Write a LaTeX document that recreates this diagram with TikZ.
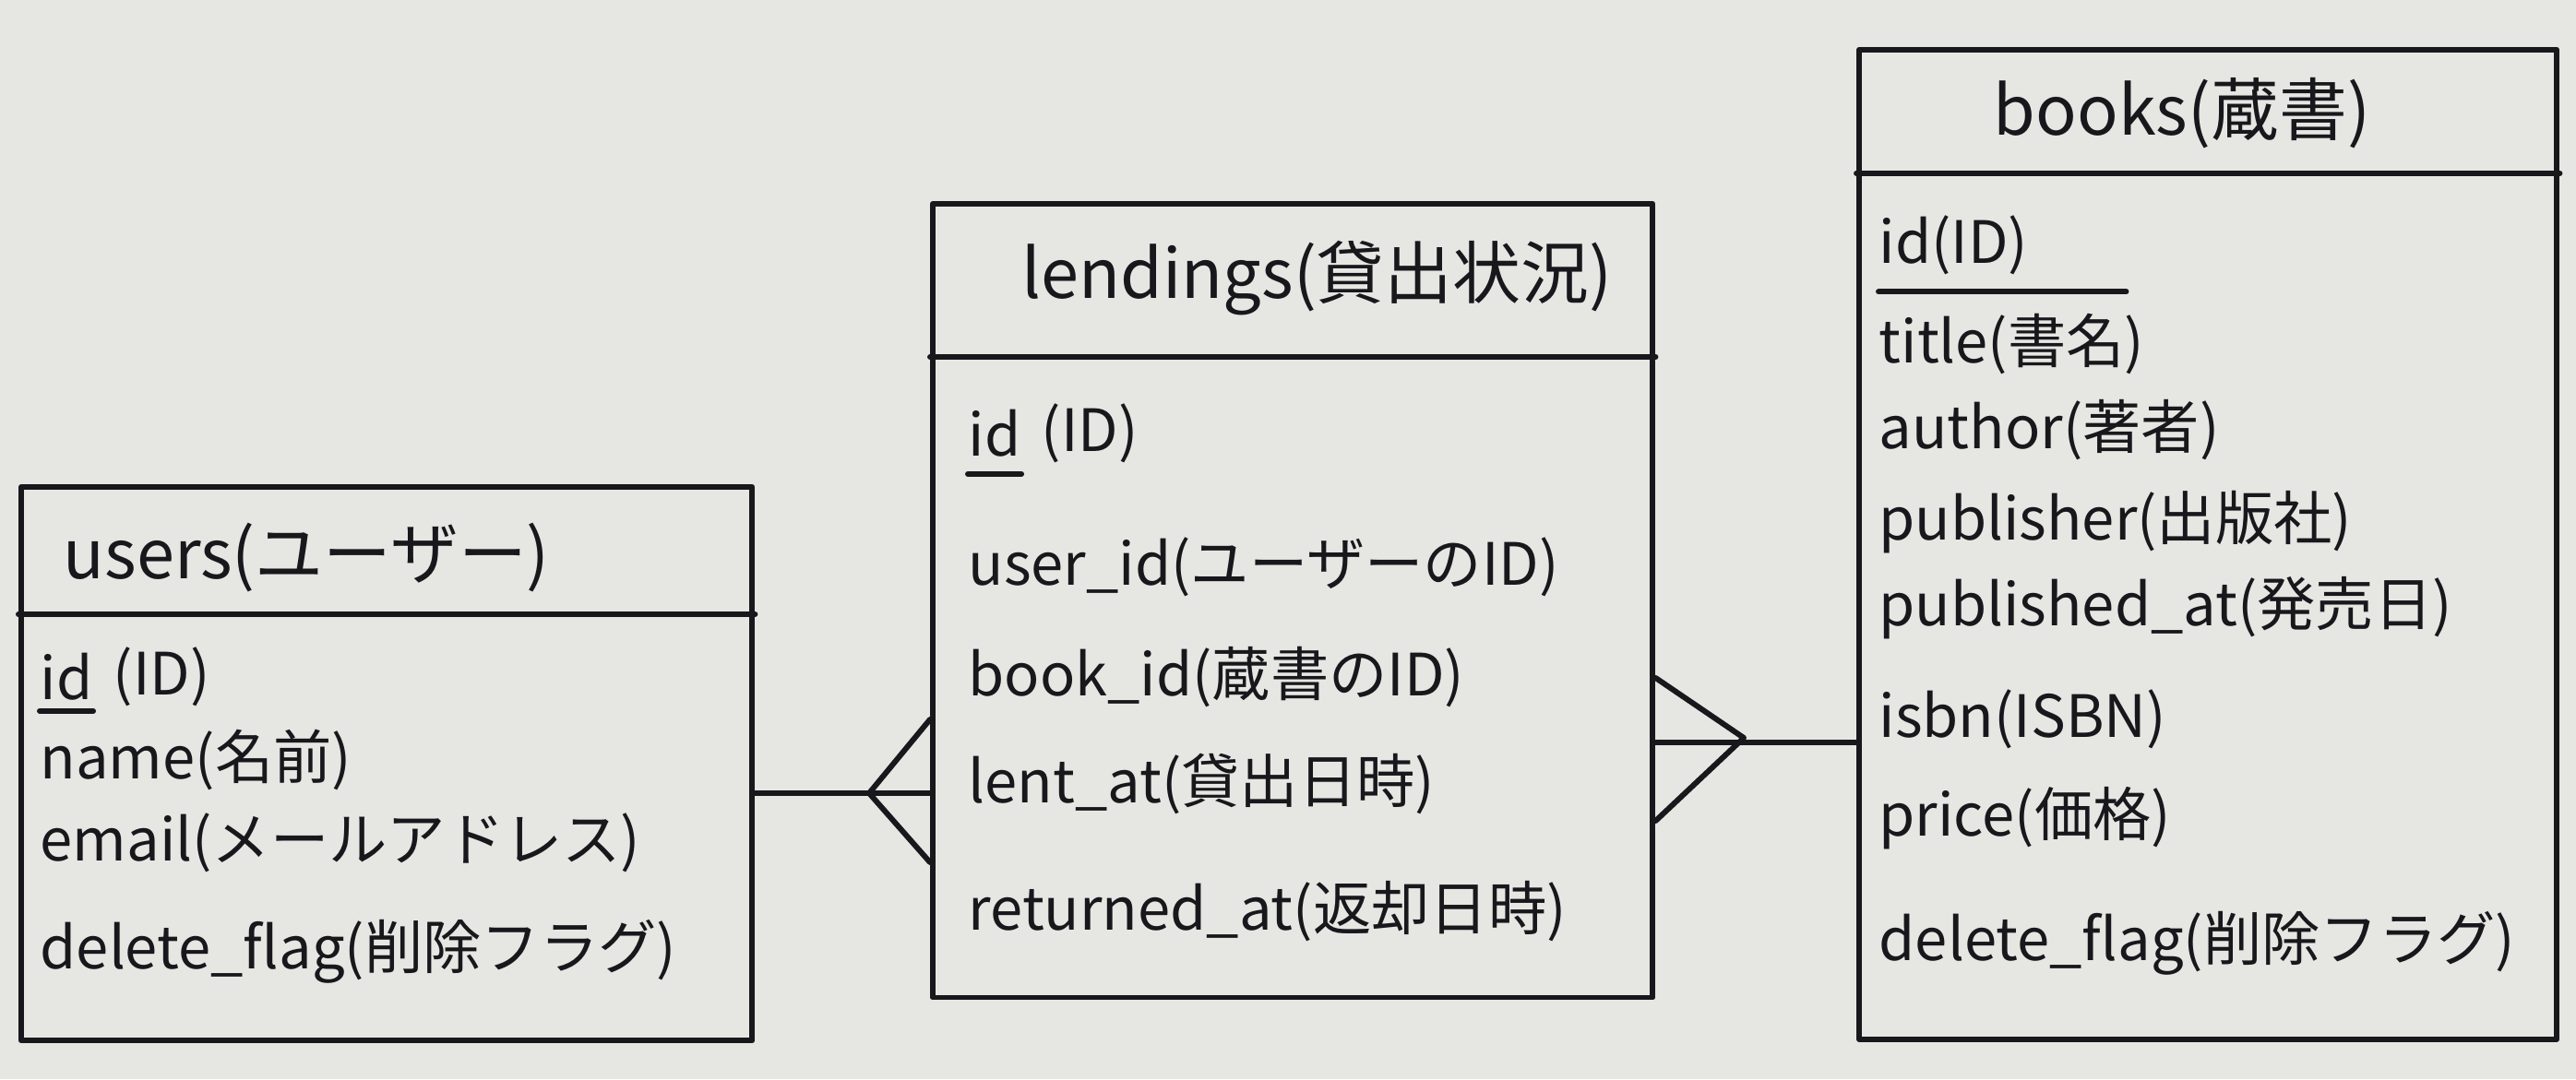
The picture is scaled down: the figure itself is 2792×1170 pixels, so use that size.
\documentclass[tikz,border=0pt]{standalone}
\usepackage{fontspec}
\setmainfont{Noto Sans CJK JP}
\definecolor{bgc}{RGB}{230,230,227}
\definecolor{inkc}{RGB}{24,24,28}
\begin{document}
\begin{tikzpicture}[x=0.01cm,y=-0.01cm,
  ink/.style={draw=inkc, line width=1.7pt, line cap=round, line join=round},
  box/.style={ink, rectangle, inner sep=0, anchor=north west},
  hdr/.style={font=\fontsize{21}{24}\selectfont, text=inkc, inner sep=0},
  fld/.style={font=\fontsize{18}{21}\selectfont, text=inkc, inner sep=0, anchor=west},
]
\fill[bgc] (0,0) rectangle (2792,1170);
\useasboundingbox (0,0) rectangle (2792,1170);

% boxes
\node[box, minimum width=7.92cm, minimum height=6.00cm] (users) at (20,525) {};
\node[box, minimum width=7.80cm, minimum height=8.60cm] (lend) at (1008,218) {};
\node[box, minimum width=7.56cm, minimum height=10.72cm] (books) at (2012,51) {};

% header dividers
\draw[ink] (users.west |- 0,666) -- (users.east |- 0,666);
\draw[ink] (lend.west |- 0,387) -- (lend.east |- 0,387);
\draw[ink] (books.west |- 0,188) -- (books.east |- 0,188);

% headers
\node[hdr, anchor=west] (usersH) at (68,605) {users(ユーザー)};
\node[hdr, anchor=west] (lendH) at (1107,302) {lendings(貸出状況)};
\node[hdr] (booksH) at (2365,123) {books(蔵書)};

% users fields
\node[fld] (uidk) at (43,734) {id};
\node[fld, anchor=west] (uidt) at ([xshift=6pt]uidk.east) {(ID)};
\draw[ink] ([yshift=-3pt]uidk.south west) -- ([yshift=-3pt]uidk.south east);
\node[fld] (uname) at (43,824) {name(名前)};
\node[fld] (umail) at (43,914) {email(メールアドレス)};
\node[fld] (udel) at (43,1032) {delete\_flag(削除フラグ)};

% lendings fields
\node[fld] (lidk) at (1049,470) {id};
\node[fld, anchor=west] (lidt) at ([xshift=6pt]lidk.east) {(ID)};
\draw[ink] ([yshift=-5pt]lidk.south west) -- ([yshift=-5pt]lidk.south east);
\node[fld] (luser) at (1049,615) {user\_id(ユーザーのID)};
\node[fld] (lbook) at (1049,734) {book\_id(蔵書のID)};
\node[fld] (llent) at (1049,850) {lent\_at(貸出日時)};
\node[fld] (lret) at (1049,988) {returned\_at(返却日時)};

% books fields
\node[fld] (bid) at (2036,266) {id(ID)};
\draw[ink] ([yshift=-5pt]bid.south west) -- ([yshift=-5pt,xshift=30pt]bid.south east);
\node[fld] (btitle) at (2036,373) {title(書名)};
\node[fld] (bauth) at (2036,466) {author(著者)};
\node[fld] (bpub) at (2036,566) {publisher(出版社)};
\node[fld] (bpubat) at (2036,659) {published\_at(発売日)};
\node[fld] (bisbn) at (2036,780) {isbn(ISBN)};
\node[fld] (bprice) at (2036,887) {price(価格)};
\node[fld] (bdel) at (2036,1023) {delete\_flag(削除フラグ)};

% users -- lendings (many on lendings side)
\draw[ink] (users.east |- 0,860) -- (lend.west |- 0,860);
\coordinate (f1) at (942,860);
\draw[ink] (lend.west |- 0,780) -- (f1) -- (lend.west |- 0,935);

% lendings -- books (many on lendings side)
\draw[ink] (lend.east |- 0,805) -- (books.west |- 0,805);
\coordinate (f2) at (1890,800);
\draw[ink] (lend.east |- 0,735) -- (f2) -- (lend.east |- 0,890);
\end{tikzpicture}
\end{document}
